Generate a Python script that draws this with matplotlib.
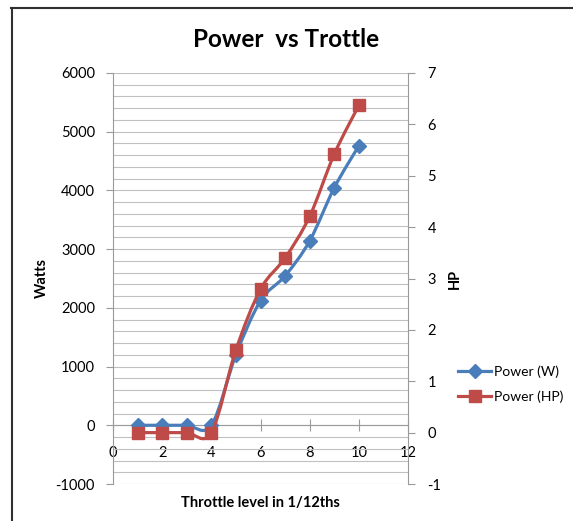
import matplotlib
matplotlib.use("Agg")
import matplotlib.pyplot as plt
from matplotlib.path import Path
from matplotlib.patches import PathPatch
from matplotlib.lines import Line2D

throttle = [1, 2, 3, 4, 5, 6, 7, 8, 9, 10]
power_w = [0, 0, 0, 0, 1200, 2120, 2545, 3140, 4045, 4760]
power_hp = [0, 0, 0, 0, 1.61, 2.79, 3.40, 4.21, 5.42, 6.37]

BLUE = "#4a7ebb"
RED = "#be4b48"
GRID = "#c0c0c0"
AXIS = "#9a9a9a"

plt.rcParams["font.family"] = ["Lato", "DejaVu Sans"]
plt.rcParams["axes.unicode_minus"] = False


def smooth_path(xs, ys):
    # Excel-style smoothed line: cubic Bezier segments, control points 1/6 of neighbour diff
    n = len(xs)
    verts = [(xs[0], ys[0])]
    codes = [Path.MOVETO]
    for i in range(n - 1):
        x0, y0 = xs[max(i - 1, 0)], ys[max(i - 1, 0)]
        x1, y1 = xs[i], ys[i]
        x2, y2 = xs[i + 1], ys[i + 1]
        x3, y3 = xs[min(i + 2, n - 1)], ys[min(i + 2, n - 1)]
        c1 = (x1 + (x2 - x0) / 6.0, y1 + (y2 - y0) / 6.0)
        c2 = (x2 - (x3 - x1) / 6.0, y2 - (y3 - y1) / 6.0)
        verts += [c1, c2, (x2, y2)]
        codes += [Path.CURVE4] * 3
    return Path(verts, codes)


fig = plt.figure(figsize=(5.73, 5.21), dpi=100)
ax = fig.add_axes([113 / 573, 1 - 484 / 521, 295 / 573, 411 / 521])
ax2 = ax.twinx()

ax.set_xlim(0, 12)
ax.set_ylim(-1000, 6000)
ax2.set_ylim(-1, 7)

ax.set_yticks(range(-1000, 6001, 1000))
ax.set_yticks(range(-1000, 6001, 200), minor=True)
ax.grid(True, which="both", axis="y", color=GRID, linewidth=0.8)
ax.set_axisbelow(True)
ax.set_xticks(range(0, 13, 2))
ax2.set_yticks(range(-1, 8))

for a in (ax, ax2):
    a.spines["top"].set_visible(False)
ax.spines["right"].set_visible(False)
ax2.spines["left"].set_visible(False)
ax2.spines["bottom"].set_visible(False)
ax.spines["left"].set_color(AXIS)
ax2.spines["right"].set_color(AXIS)
ax.spines["bottom"].set_position(("data", 0))
ax.spines["bottom"].set_color(AXIS)

ax.tick_params(axis="y", which="major", length=5, color=AXIS, labelsize=10.5, pad=8)
ax.tick_params(axis="y", which="minor", length=0)
ax.tick_params(axis="x", direction="inout", length=8, color=AXIS, labelsize=10.5, pad=11)
ax2.tick_params(axis="y", length=5, color=AXIS, labelsize=10.5, pad=9)

# smoothed lines drawn in data space
ax.add_patch(PathPatch(smooth_path(throttle, power_w), fill=False,
                       edgecolor=BLUE, linewidth=2.3, zorder=3))
ax2.add_patch(PathPatch(smooth_path(throttle, power_hp), fill=False,
                        edgecolor=RED, linewidth=2.3, zorder=3))
ax.plot(throttle, power_w, linestyle="none", marker="D", markersize=7,
        color=BLUE, zorder=4)
ax2.plot(throttle, power_hp, linestyle="none", marker="s", markersize=9,
         color=RED, zorder=4)

ax.set_ylabel("Watts", fontsize=10.5, fontweight="bold", labelpad=5)
ax2.set_ylabel("HP", fontsize=10.5, fontweight="bold", labelpad=5)
ax.set_xlabel("Throttle level in 1/12ths", fontsize=10.5, fontweight="bold")
ax.xaxis.set_label_coords(0.5, -0.03)
fig.text(0.5, 0.925, "Power  vs Trottle", ha="center", va="center",
         fontsize=17.5, fontweight="bold")

handles = [
    Line2D([], [], color=BLUE, linewidth=2.3, marker="D", markersize=7),
    Line2D([], [], color=RED, linewidth=2.3, marker="s", markersize=9),
]
fig.legend(handles, ["Power (W)", "Power (HP)"], loc="center left",
           bbox_to_anchor=(458 / 573, 1 - 384 / 521), frameon=False,
           fontsize=10, handlelength=2.4, handletextpad=0.2, labelspacing=0.9,
           borderpad=0, borderaxespad=0)

# chart border (top and left edges visible)
fig.add_artist(Line2D([11 / 573, 1], [1 - 8 / 521, 1 - 8 / 521],
                      transform=fig.transFigure, color="#303030", linewidth=1.5))
fig.add_artist(Line2D([12 / 573, 12 / 573], [0, 1 - 8 / 521],
                      transform=fig.transFigure, color="#303030", linewidth=1.5))

fig.savefig("out.png", dpi=100)
